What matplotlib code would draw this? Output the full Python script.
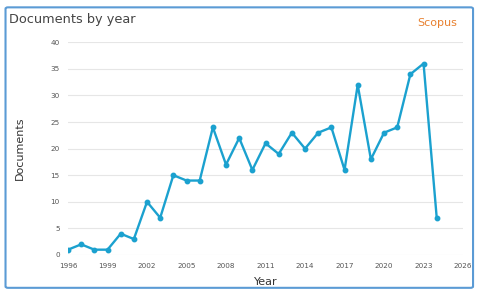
import matplotlib.pyplot as plt
from matplotlib.patches import FancyBboxPatch

years = list(range(1996, 2025))
documents = [1, 2, 1, 1, 4, 3, 10, 7, 15, 14, 14, 24, 17, 22, 16, 21, 19, 23, 20, 23, 24, 16, 32, 18, 23, 24, 34, 36, 7]
xticks = list(range(1996, 2027, 3))
yticks = [0, 5, 10, 15, 20, 25, 30, 35, 40]

line_color = '#1ba1cf'

fig = plt.figure(figsize=(4.8, 2.94), dpi=100)
ax = fig.add_axes([0.1417, 0.1327, 0.823, 0.7234])

ax.plot(years, documents, color=line_color, lw=1.7, marker='o', ms=3.2, zorder=3)

ax.set_xlim(1996, 2026)
ax.set_ylim(0, 40)
ax.set_xticks(xticks)
ax.set_yticks(yticks)
ax.tick_params(axis='both', length=0, labelsize=5.2, labelcolor='#555555', pad=6)
ax.grid(axis='y', color='#e6e6e6', lw=0.8)
ax.set_axisbelow(True)
for s in ax.spines.values():
    s.set_visible(False)

ax.set_ylabel('Documents', fontsize=8, color='#333333')
ax.yaxis.set_label_coords(-0.122, 0.5)
ax.set_xlabel('Year', fontsize=8, color='#333333')
ax.xaxis.set_label_coords(0.5, -0.127)
ax.xaxis.label.set_va('center')
ax.yaxis.label.set_va('center')

fig.text(0.019, 0.932, 'Documents by year', fontsize=9.3, color='#444444', va='center')
fig.text(0.953, 0.923, 'Scopus', fontsize=8, color='#e8802f', ha='right', va='center')

border = FancyBboxPatch((0.0115, 0.021), 0.974, 0.954, boxstyle='round,pad=0,rounding_size=0.005',
                        transform=fig.transFigure, fill=False, edgecolor='#5b9bd5', lw=1.5)
fig.patches.append(border)

fig.savefig('out.png', dpi=100)
